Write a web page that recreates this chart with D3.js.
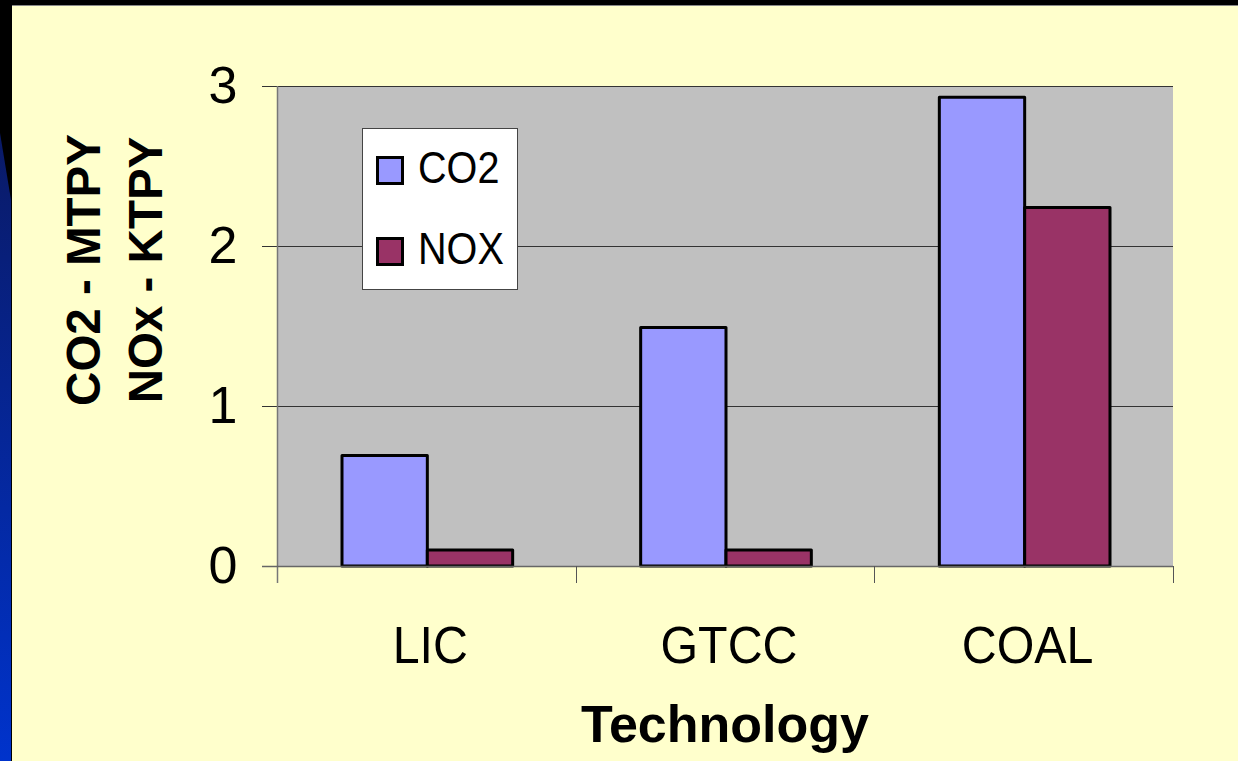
<!DOCTYPE html>
<html>
<head>
<meta charset="utf-8">
<script src="https://cdn.jsdelivr.net/npm/d3@7"></script>
<style>
  body { margin: 0; background: #ffffcc; }
  svg { display: block; font-family: "Liberation Sans", Arial, sans-serif; }
</style>
</head>
<body>
<svg id="canvas" width="1238" height="761"></svg>
<script>
// chart data
var categories = ["LIC", "GTCC", "COAL"]
var series = ["CO2", "NOX"]
var co2 = [0.69, 1.49, 2.93]
var nox = [0.1, 0.1, 2.24]
var yTicks = [0, 1, 2, 3]
var colors = {CO2: "#9999ff", NOX: "#993366"}

var width = 1238, height = 761
var plot = {left: 277, right: 1173, top: 86, bottom: 566}

var svg = d3.select("#canvas")

// slide background
svg.append("rect").attr("width", width).attr("height", height).attr("fill", "#ffffcc")
svg.append("rect").attr("width", width).attr("height", 5).attr("fill", "#000")
svg.append("rect").attr("width", 12).attr("height", height).attr("fill", "#000")
var grad = svg.append("defs").append("linearGradient").attr("id", "blue")
  .attr("x1", 0).attr("y1", 0).attr("x2", 0).attr("y2", 1)
grad.append("stop").attr("offset", 0).attr("stop-color", "#0a1a66")
grad.append("stop").attr("offset", 1).attr("stop-color", "#0033cc")
svg.append("path").attr("d", "M0,133 L11,200 L11,761 L0,761 Z").attr("fill", "url(#blue)")
svg.append("line").attr("x1", 12).attr("x2", width).attr("y1", 5.5).attr("y2", 5.5)
  .attr("stroke", "#888").attr("stroke-width", 1)

var x = d3.scaleBand().domain(categories).range([plot.left, plot.right])
var x1 = d3.scaleBand().domain(series).range([0, x.bandwidth()]).paddingOuter(0.75)
var y = d3.scaleLinear().domain([0, 3]).range([plot.bottom, plot.top])

// plot area
svg.append("rect")
  .attr("x", plot.left).attr("y", plot.top)
  .attr("width", plot.right - plot.left).attr("height", plot.bottom - plot.top)
  .attr("fill", "#c0c0c0")

// gridlines
svg.append("g").selectAll("line")
  .data(yTicks.filter(d => d > 0))
  .enter().append("line")
  .attr("x1", plot.left - 15).attr("x2", plot.right)
  .attr("y1", d => Math.round(y(d)) + 0.5).attr("y2", d => Math.round(y(d)) + 0.5)
  .attr("stroke", "#333").attr("stroke-width", 1)

// bars
var rows = categories.map((c, i) => ({cat: c, values: [co2[i], nox[i]]}))
svg.append("g").selectAll("g")
  .data(rows)
  .enter().append("g")
  .attr("transform", d => "translate(" + (x(d.cat) + 1) + ",0)")
  .selectAll("rect")
  .data(d => d.values.map((v, j) => ({key: series[j], value: v})))
  .enter().append("rect")
  .attr("x", d => x1(d.key))
  .attr("y", d => y(d.value))
  .attr("width", x1.bandwidth())
  .attr("height", d => y(0) - y(d.value))
  .attr("fill", d => colors[d.key])
  .attr("stroke", "#000").attr("stroke-width", 3)
  .attr("stroke-linejoin", "round")

// y axis
var yAxis = svg.append("g")
  .attr("transform", "translate(" + (plot.left + 0.5) + ",0)")
  .call(d3.axisLeft(y).tickValues(yTicks).tickSize(15).tickFormat(d3.format("d")))
yAxis.select(".domain").remove()
yAxis.selectAll(".tick line").attr("stroke", "#333")
yAxis.selectAll(".tick text")
  .attr("x", -40).attr("dy", "16px")
  .attr("font-size", 52).attr("font-family", "Liberation Sans, Arial, sans-serif")
  .attr("fill", "#000")

svg.append("line")
  .attr("x1", plot.left + 0.5).attr("x2", plot.left + 0.5)
  .attr("y1", plot.top).attr("y2", plot.bottom + 17)
  .attr("stroke", "#777").attr("stroke-width", 1.5)

// x axis
svg.append("line")
  .attr("x1", plot.left - 15).attr("x2", plot.right)
  .attr("y1", plot.bottom + 0.5).attr("y2", plot.bottom + 0.5)
  .attr("stroke", "#666").attr("stroke-width", 1.5)
var bounds = categories.map(c => x(c)).concat([x(categories[categories.length - 1]) + x.bandwidth()])
svg.append("g").selectAll("line")
  .data(bounds.slice(1))
  .enter().append("line")
  .attr("x1", d => Math.round(d) + 0.5).attr("x2", d => Math.round(d) + 0.5)
  .attr("y1", plot.bottom).attr("y2", plot.bottom + 17)
  .attr("stroke", "#555").attr("stroke-width", 1)

// category labels, a little narrower than the default face
svg.append("g").selectAll("text")
  .data(categories)
  .enter().append("text")
  .attr("transform", d => "translate(" + (x(d) + x.bandwidth() / 2 + 4) + ",663) scale(0.93,1)")
  .attr("text-anchor", "middle")
  .attr("font-size", 52)
  .text(d => d)

// axis titles
svg.append("text")
  .attr("x", (plot.left + plot.right) / 2).attr("y", 742)
  .attr("text-anchor", "middle").attr("font-size", 52).attr("font-weight", "bold")
  .text("Technology")

var yTitle = ["CO2 - MTPY", "NOx - KTPY"]
svg.append("g").selectAll("text")
  .data(yTitle)
  .enter().append("text")
  .attr("transform", (d, i) => "translate(" + (100 + i * 62) + ",270) rotate(-90)")
  .attr("text-anchor", "middle").attr("font-size", 47.5).attr("font-weight", "bold")
  .text(d => d)

// legend
var legend = svg.append("g").attr("transform", "translate(362,128)")
legend.append("rect")
  .attr("x", 0.5).attr("y", 0.5).attr("width", 155).attr("height", 161)
  .attr("fill", "#fff").attr("stroke", "#444").attr("stroke-width", 1)
var item = legend.selectAll("g.item")
  .data(series)
  .enter().append("g").attr("class", "item")
  .attr("transform", (d, i) => "translate(0," + (i * 81) + ")")
item.append("rect")
  .attr("x", 15.5).attr("y", 29.5).attr("width", 25).attr("height", 26)
  .attr("fill", d => colors[d]).attr("stroke", "#000").attr("stroke-width", 3)
item.append("text")
  .attr("transform", "translate(56,55) scale(0.9,1)")
  .attr("font-size", 44)
  .text(d => d)
</script>
</body>
</html>
